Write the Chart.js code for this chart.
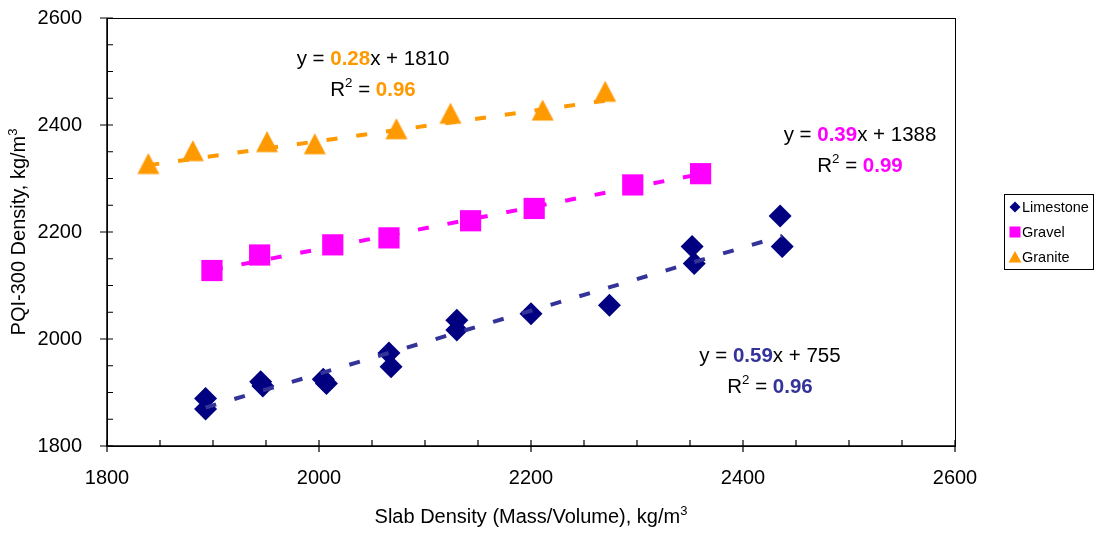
<!DOCTYPE html>
<html>
<head>
<meta charset="utf-8">
<script src="https://cdn.jsdelivr.net/npm/chart.js@4"></script>
<style>
  body { margin: 0; background: #fff; }
  #wrap { width: 1095px; height: 533px; position: relative; }
</style>
</head>
<body>
<div id="wrap"><canvas id="myChart" width="1095" height="533"></canvas></div>
<script>
// data
const seriesNames = ['Limestone', 'Gravel', 'Granite'];

const limestoneX = [1893, 1893, 1945, 1947, 2004, 2007, 2066, 2068, 2130, 2130, 2200, 2274, 2352, 2354, 2435, 2437];
const limestoneY = [1889, 1869, 1920, 1912, 1925, 1917, 1974, 1948, 2035, 2017, 2047, 2063, 2173, 2141, 2230, 2173];

const gravelX = [1899, 1944, 2013, 2066, 2143, 2203, 2296, 2360];
const gravelY = [2128, 2157, 2176, 2189, 2221, 2244, 2288, 2309];

const graniteX = [1839, 1881, 1951, 1996, 2073, 2124, 2211, 2270];
const graniteY = [2328, 2352, 2369, 2365, 2393, 2422, 2428, 2463];

// trendline equations as printed on the chart
const slopes = [0.59, 0.39, 0.28];
const intercepts = [755, 1388, 1810];
const rSquared = ['0.96', '0.99', '0.96'];

const xTicks = [1800, 2000, 2200, 2400, 2600];
const yTicks = [1800, 2000, 2200, 2400, 2600];

const colors = ['#000080', '#FF00FF', '#FF9900'];
const trendColors = ['#333399', '#FF00FF', '#FF9900'];
const FONT = "'Liberation Sans', Arial, sans-serif";

function pts(xs, ys) {
  const out = [];
  for (let i = 0; i < xs.length; i++) out.push({x: xs[i], y: ys[i]});
  return out;
}
function trend(xs, k) {
  const lo = Math.min(...xs), hi = Math.max(...xs);
  return [{x: lo, y: slopes[k] * lo + intercepts[k]}, {x: hi, y: slopes[k] * hi + intercepts[k]}];
}

// triangle marker centred on its bounding box (like Excel), not on its centroid
const tri = document.createElement('canvas');
tri.width = 24; tri.height = 24;
(function () {
  const c = tri.getContext('2d');
  c.fillStyle = colors[2];
  c.beginPath();
  c.moveTo(12, 1.5); c.lineTo(23, 22.5); c.lineTo(1, 22.5);
  c.closePath();
  c.fill();
})();

const allX = [limestoneX, gravelX, graniteX];
const allY = [limestoneY, gravelY, graniteY];
const styles = ['rectRot', 'rect', tri];
const radii = [11.5, 15, 12];

const datasets = [];
for (let k = 0; k < 3; k++) {
  datasets.push({
    label: seriesNames[k],
    data: pts(allX[k], allY[k]),
    pointStyle: styles[k],
    pointRadius: radii[k],
    pointHoverRadius: radii[k],
    backgroundColor: colors[k],
    borderColor: colors[k],
    borderWidth: 0,
    order: 2
  });
}
for (let k = 0; k < 3; k++) {
  datasets.push({
    type: 'line',
    label: seriesNames[k] + ' trend',
    data: trend(allX[k], k),
    borderColor: trendColors[k],
    borderWidth: 4,
    borderDash: [11, 19],
    pointRadius: 0,
    fill: false,
    order: 1
  });
}

// frame, tick marks, axis titles, legend, equations
const decor = {
  id: 'decor',
  beforeDatasetsDraw(chart) {
    const ctx = chart.ctx;
    const xs = chart.scales.x, ys = chart.scales.y;
    const a = chart.chartArea;
    ctx.save();
    ctx.strokeStyle = '#000';
    ctx.lineWidth = 1;
    ctx.strokeRect(a.left + 0.5, a.top + 0.5, a.right - a.left, a.bottom - a.top);
    ctx.lineWidth = 1.5;
    ctx.beginPath();
    ctx.moveTo(a.left, a.top); ctx.lineTo(a.left, a.bottom); ctx.lineTo(a.right, a.bottom);
    ctx.stroke();
    ctx.lineWidth = 1.2;
    ctx.beginPath();
    for (let v = 1800; v <= 2600; v += 50) {
      const major = (v - 1800) % 200 === 0;
      const px = xs.getPixelForValue(v);
      ctx.moveTo(px, a.bottom + (major ? 6 : 0)); ctx.lineTo(px, a.bottom - 6);
      const py = ys.getPixelForValue(v);
      ctx.moveTo(a.left - (major ? 7 : 0), py); ctx.lineTo(a.left + 6, py);
    }
    ctx.stroke();

    // axis titles
    ctx.fillStyle = '#000';
    ctx.textBaseline = 'alphabetic';
    drawRich(ctx, [['Slab Density (Mass/Volume), kg/m', false, '#000'], ['3', 'sup', '#000']],
      (a.left + a.right) / 2, 523, 20);
    ctx.save();
    ctx.translate(25, (a.top + a.bottom) / 2);
    ctx.rotate(-Math.PI / 2);
    drawRich(ctx, [['PQI-300 Density, kg/m', false, '#000'], ['3', 'sup', '#000']], 0, 0, 20);
    ctx.restore();

    // legend
    const lx = 1004, ly = 194, lw = 89, lh = 75;
    ctx.fillStyle = '#fff';
    ctx.fillRect(lx, ly, lw, lh);
    ctx.strokeStyle = '#000';
    ctx.lineWidth = 1;
    ctx.strokeRect(lx + 0.5, ly + 0.5, lw, lh);
    const rows = [207, 232, 257];
    ctx.font = '14.5px ' + FONT;
    ctx.textBaseline = 'middle';
    for (let k = 0; k < 3; k++) {
      const cx = 1015, cy = rows[k];
      ctx.fillStyle = colors[k];
      ctx.beginPath();
      if (k === 0) {
        ctx.moveTo(cx, cy - 5.5); ctx.lineTo(cx + 5.5, cy); ctx.lineTo(cx, cy + 5.5); ctx.lineTo(cx - 5.5, cy);
      } else if (k === 1) {
        ctx.rect(cx - 5.5, cy - 5.5, 11, 11);
      } else {
        ctx.moveTo(cx, cy - 6); ctx.lineTo(cx + 6.5, cy + 5.5); ctx.lineTo(cx - 6.5, cy + 5.5);
      }
      ctx.closePath();
      ctx.fill();
      ctx.fillStyle = '#000';
      ctx.fillText(seriesNames[k], 1022, cy + 1);
    }
    ctx.restore();
  },
  afterDatasetsDraw(chart) {
    const ctx = chart.ctx;
    ctx.save();
    ctx.textBaseline = 'alphabetic';
    // [center x, baseline of first line] for each equation label
    const spots = [[770, 362], [860, 141], [373, 65]];
    for (let k = 0; k < 3; k++) {
      const [cx, by] = spots[k];
      const b = intercepts[k];
      drawRich(ctx, [['y = ', false, '#000'], [slopes[k].toFixed(2), true, trendColors[k]], ['x + ' + b, false, '#000']], cx, by, 20.5);
      drawRich(ctx, [['R', false, '#000'], ['2', 'sup', '#000'], [' = ', false, '#000'], [rSquared[k], true, trendColors[k]]], cx, by + 31, 20.5);
    }
    ctx.restore();
  }
};

function drawRich(ctx, parts, cx, y, size) {
  const fontOf = p => p[1] === 'sup' ? (size * 0.65) + 'px ' + FONT : (p[1] ? 'bold ' : '') + size + 'px ' + FONT;
  let w = 0;
  for (const p of parts) { ctx.font = fontOf(p); w += ctx.measureText(p[0]).width; }
  let x = cx - w / 2;
  ctx.textAlign = 'left';
  for (const p of parts) {
    ctx.font = fontOf(p);
    ctx.fillStyle = p[2];
    ctx.fillText(p[0], x, p[1] === 'sup' ? y - size * 0.42 : y);
    x += ctx.measureText(p[0]).width;
  }
}

const ctx = document.getElementById('myChart').getContext('2d');
const myChart = new Chart(ctx, {
  type: 'scatter',
  data: { datasets: datasets },
  options: {
    responsive: false,
    animation: false,
    layout: { padding: { left: 0, top: 18, right: 140, bottom: 0 } },
    scales: {
      x: {
        type: 'linear',
        min: 1800, max: 2600,
        afterBuildTicks: s => { s.ticks = xTicks.map(v => ({value: v})); },
        afterFit: s => { s.height = 87; s.paddingLeft = 0; s.paddingRight = 0; },
        grid: { display: false },
        border: { display: false },
        ticks: { color: '#000', font: { family: FONT, size: 20 }, padding: 12, maxRotation: 0, callback: v => String(v) }
      },
      y: {
        type: 'linear',
        min: 1800, max: 2600,
        afterBuildTicks: s => { s.ticks = yTicks.map(v => ({value: v})); },
        afterFit: s => { s.width = 107; s.paddingTop = 0; s.paddingBottom = 0; },
        grid: { display: false },
        border: { display: false },
        ticks: { color: '#000', font: { family: FONT, size: 20 }, padding: 17, callback: v => String(v) }
      }
    },
    plugins: {
      legend: { display: false },
      tooltip: { enabled: false }
    }
  },
  plugins: [decor]
});
</script>
</body>
</html>
